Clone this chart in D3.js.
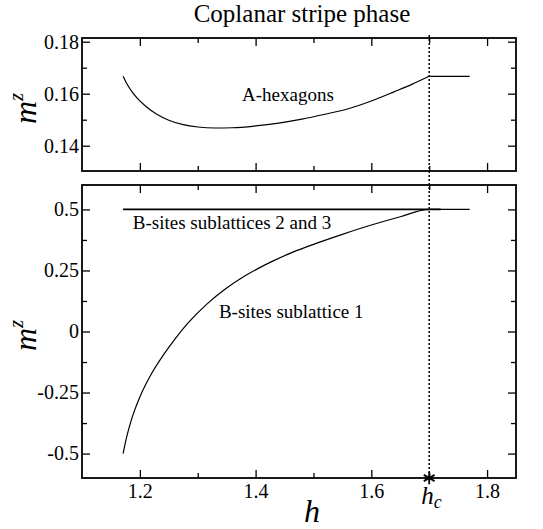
<!DOCTYPE html>
<html><head><meta charset="utf-8">
<script src="https://cdn.jsdelivr.net/npm/d3@7"></script>
<style>
html,body{margin:0;padding:0;background:#fff;}
svg{display:block;}
svg text{font-family:"Liberation Serif","DejaVu Serif",serif;}
</style></head>
<body>
<script>
// ---- data ----
const hc = 1.7;
const aHexH = [1.171,1.177,1.185,1.195,1.21,1.23,1.25,1.275,1.30,1.33,1.36,1.40,1.44,1.48,1.52,1.56,1.60,1.64,1.67,1.70];
const aHexM = [0.1667,0.1640,0.1612,0.1584,0.1552,0.1520,0.1498,0.1481,0.1472,0.1468,0.1469,0.1476,0.1487,0.1502,0.1521,0.1542,0.1572,0.1608,0.1636,0.1667];
const aHexFlatH = [1.7,1.77];
const aHexFlatM = [0.1667,0.1667];
const b1H = [1.171,1.1745,1.177,1.1835,1.191,1.2,1.222,1.2413,1.2606,1.2826,1.3157,1.3488,1.3818,1.4259,1.4645,1.5,1.55,1.6,1.65,1.7,1.77];
const b1M = [-0.5,-0.46,-0.434,-0.376,-0.322,-0.268,-0.165,-0.094,-0.031,0.033,0.112,0.176,0.228,0.284,0.325,0.357,0.398,0.436,0.470,0.5,0.5];
const b23H = [1.171,1.72];
const b23M = [0.5,0.5];
const xMajor = [1.2,1.4,1.6,1.8];
const xMinor = [1.3,1.5,1.7];
const xTickLabels = ["1.2","1.4","1.6","1.8"];
const topMajor = [0.14,0.16,0.18];
const topMinor = [0.15,0.17];
const topTickLabels = ["0.14","0.16","0.18"];
const botMajor = [-0.5,-0.25,0,0.25,0.5];
const botMinor = [-0.375,-0.125,0.125,0.375];
const botTickLabels = ["-0.5","-0.25","0","0.25","0.5"];

// ---- layout ----
const W = 543, H = 529;
const L = 82, R = 516;
const topY0 = 38, topY1 = 171;
const botY0 = 185, botY1 = 478;
const SERIF = "Liberation Serif, DejaVu Serif, serif";

const svg = d3.select("body").append("svg").attr("width",W).attr("height",H)
  .attr("font-family",SERIF);

const x = d3.scaleLinear().domain([1.1,1.85]).range([L,R]);
const yT = d3.scaleLinear().domain([0.13027,0.18142]).range([topY1,topY0]);
const yB = d3.scaleLinear().domain([-0.6,0.6]).range([botY1,botY0]);

const MAJ = 8, MIN = 5, TICKW = 1.3;
const tickFont = 20;

function styleAxis(g){
  g.attr("font-family",SERIF).attr("font-size",tickFont);
  g.select(".domain").remove();
  g.selectAll(".tick line").attr("stroke","#000").attr("stroke-width",TICKW);
  g.selectAll(".tick text").attr("fill","#000");
}

function panel(y, y0, y1, yMaj, yMin, yLabels, showX){
  const fmtY = d => yLabels[yMaj.indexOf(d)];
  svg.append("g").attr("transform",`translate(${L},0)`)
    .call(d3.axisLeft(y).tickValues(yMaj).tickSize(-MAJ).tickPadding(3).tickFormat(fmtY)).call(styleAxis);
  svg.append("g").attr("transform",`translate(${L},0)`)
    .call(d3.axisLeft(y).tickValues(yMin).tickSize(-MIN).tickFormat("")).call(styleAxis);
  svg.append("g").attr("transform",`translate(${R},0)`)
    .call(d3.axisRight(y).tickValues(yMaj).tickSize(-MAJ).tickFormat("")).call(styleAxis);
  svg.append("g").attr("transform",`translate(${R},0)`)
    .call(d3.axisRight(y).tickValues(yMin).tickSize(-MIN).tickFormat("")).call(styleAxis);
  svg.append("g").attr("transform",`translate(0,${y0})`)
    .call(d3.axisTop(x).tickValues(xMajor).tickSize(-MAJ).tickFormat("")).call(styleAxis);
  svg.append("g").attr("transform",`translate(0,${y0})`)
    .call(d3.axisTop(x).tickValues(xMinor).tickSize(-MIN).tickFormat("")).call(styleAxis);
  svg.append("g").attr("transform",`translate(0,${y1})`)
    .call(d3.axisBottom(x).tickValues(xMajor).tickSize(-MAJ).tickPadding(6)
      .tickFormat(showX ? (d => xTickLabels[xMajor.indexOf(d)]) : "")).call(styleAxis);
  svg.append("g").attr("transform",`translate(0,${y1})`)
    .call(d3.axisBottom(x).tickValues(xMinor).tickSize(-MIN).tickFormat("")).call(styleAxis);
  svg.append("rect").attr("x",L).attr("y",y0).attr("width",R-L).attr("height",y1-y0)
    .attr("fill","none").attr("stroke","#000").attr("stroke-width",1.8);
}

panel(yT, topY0, topY1, topMajor, topMinor, topTickLabels, false);
panel(yB, botY0, botY1, botMajor, botMinor, botTickLabels, true);

function drawLine(hs, ms, y, w){
  const pts = hs.map((h,i)=>[h,ms[i]]);
  svg.append("path").datum(pts)
    .attr("d", d3.line().x(d=>x(d[0])).y(d=>y(d[1])).curve(d3.curveMonotoneX))
    .attr("fill","none").attr("stroke","#000").attr("stroke-width",w);
}
drawLine(aHexH, aHexM, yT, 1.2);
drawLine(aHexFlatH, aHexFlatM, yT, 1.3);
drawLine(b23H, b23M, yB, 1.6);
drawLine(b1H, b1M, yB, 1.2);

// critical field dotted line
svg.append("line").attr("x1",x(hc)).attr("x2",x(hc)).attr("y1",35).attr("y2",botY1)
  .attr("stroke","#000").attr("stroke-width",1.5).attr("stroke-dasharray","2,2");
svg.append("path").attr("transform",`translate(${x(hc)},${botY1})`)
  .attr("d", d3.symbol().type(d3.symbolAsterisk).size(110)())
  .attr("fill","none").attr("stroke","#000").attr("stroke-width",1.8);

// texts
svg.append("text").attr("x",302).attr("y",22).attr("text-anchor","middle")
  .attr("font-size",25).text("Coplanar stripe phase");

const annFont = 19;
svg.append("text").attr("x",x(1.3765)).attr("y",yT(0.1572)).attr("font-size",annFont).text("A-hexagons");
svg.append("text").attr("x",x(1.1878)).attr("y",yB(0.42)).attr("font-size",annFont).text("B-sites sublattices 2 and 3");
svg.append("text").attr("x",x(1.3366)).attr("y",yB(0.056)).attr("font-size",annFont).text("B-sites sublattice 1");

// axis titles
function mzLabel(cy){
  const t = svg.append("text").attr("transform",`translate(36,${cy}) rotate(-90)`)
    .attr("text-anchor","middle").attr("font-size",32).attr("font-style","italic");
  t.append("tspan").text("m");
  t.append("tspan").attr("dy",-13).attr("font-size",20).text("z");
}
mzLabel((topY0+topY1)/2 + 4);
mzLabel((botY0+botY1)/2 + 4);

svg.append("text").attr("x",312).attr("y",522).attr("text-anchor","middle")
  .attr("font-size",32).attr("font-style","italic").text("h");

const hcT = svg.append("text").attr("x",x(hc)-8).attr("y",504).attr("font-size",25).attr("font-style","italic");
hcT.append("tspan").text("h");
hcT.append("tspan").attr("dy",4).attr("font-size",18).text("c");
</script>
</body></html>
